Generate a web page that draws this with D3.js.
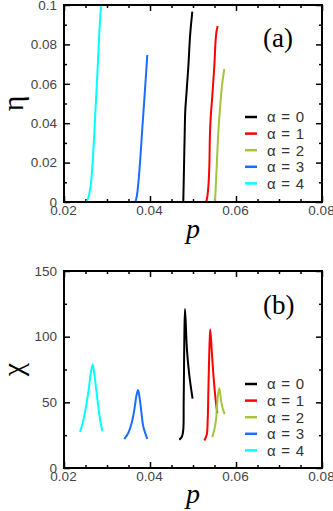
<!DOCTYPE html>
<html><head><meta charset="utf-8">
<script src="https://cdn.jsdelivr.net/npm/d3@7"></script>
<style>html,body{margin:0;padding:0;background:#fff;}svg{display:block;}</style>
</head><body>
<svg id="c" width="333" height="511"></svg>
<script>
// ---- data ----
const alphas = [0, 1, 2, 3, 4];
const colors = ["#000000", "#ff0000", "#a5c43a", "#1a6dff", "#00ffff"];
const xTicks = [0.02, 0.04, 0.06, 0.08];
const etaTicks = [0, 0.02, 0.04, 0.06, 0.08, 0.1];
const etaTickLabels = ["0", "0.02", "0.04", "0.06", "0.08", "0.1"];
const chiTicks = [0, 50, 100, 150];

// panel (a): eta vs p
const etaP0 = [0.04774, 0.04791, 0.04807, 0.04821, 0.04837, 0.04891, 0.04937, 0.04984];
const etaV0 = [0, 0.0178, 0.035, 0.0467, 0.0518, 0.0685, 0.0858, 0.0966];
const etaP1 = [0.05302, 0.05319, 0.05356, 0.05379, 0.05395, 0.05412, 0.05442, 0.05495, 0.05542, 0.05574];
const etaV1 = [0, 0.001, 0.0076, 0.0178, 0.035, 0.0431, 0.0518, 0.0685, 0.0858, 0.0893];
const etaP2 = [0.05512, 0.05551, 0.05588, 0.05644, 0.05681, 0.05728];
const etaV2 = [0, 0.0178, 0.035, 0.0518, 0.0604, 0.0675];
const etaP3 = [0.03612, 0.03651, 0.03674, 0.03728, 0.0376, 0.03814, 0.03867, 0.03919, 0.03937];
const etaV3 = [0, 0, 0.001, 0.0096, 0.0178, 0.035, 0.0518, 0.0685, 0.0746];
const etaP4 = [0.02465, 0.02528, 0.02605, 0.02658, 0.02705, 0.02744, 0.02784, 0.02821, 0.0286];
const etaV4 = [0, 0, 0.0061, 0.0178, 0.035, 0.0518, 0.0685, 0.0858, 0.1];

// panel (b): chi vs p
const chiP0 = [0.04681, 0.04744, 0.04774, 0.04783, 0.04791, 0.04798, 0.04814, 0.0486, 0.04914, 0.0499];
const chiV0 = [21.5, 24, 29.1, 49.3, 74.6, 97.4, 121, 89.8, 70.8, 52.8];
const chiP1 = [0.05263, 0.05319, 0.05342, 0.05356, 0.05372, 0.05388, 0.05402, 0.05435, 0.05472, 0.05519, 0.05565];
const chiV1 = [21, 25.3, 36.7, 56.9, 79.7, 97.4, 105.5, 89.8, 72.1, 54.4, 41.8];
const chiP2 = [0.05449, 0.05495, 0.05535, 0.05558, 0.05581, 0.05612, 0.05651, 0.0569, 0.05737];
const chiV2 = [23.5, 29.1, 36.7, 46.8, 55.6, 60.7, 51.9, 45.5, 41];
const chiP3 = [0.03402, 0.03495, 0.03574, 0.03635, 0.03681, 0.03721, 0.0376, 0.03798, 0.03844, 0.03937];
const chiV3 = [22, 26.6, 34.2, 44.3, 54.4, 59.4, 53.1, 43, 31.6, 22.2];
const chiP4 = [0.02372, 0.02435, 0.02512, 0.02574, 0.02621, 0.02667, 0.02714, 0.0276, 0.02807, 0.02853, 0.02891];
const chiV4 = [27.5, 34.2, 46.8, 59.4, 72.1, 78.8, 69.5, 56.9, 44.3, 34.2, 28];

const etaSeries = [[etaP0, etaV0], [etaP1, etaV1], [etaP2, etaV2], [etaP3, etaV3], [etaP4, etaV4]];
const chiSeries = [[chiP0, chiV0], [chiP1, chiV1], [chiP2, chiV2], [chiP3, chiV3], [chiP4, chiV4]];

const svg = d3.select("#c");
const tickFont = "'Liberation Sans', Arial, sans-serif";
const serif = "'Liberation Serif', 'DejaVu Serif', serif";

function panel(opts) {
  const {top, bottom, yDomain, yTicks, yMinor, yFmt, series, label, ylabel, legendY0, xlabelY, curve} = opts;
  const left = 64, right = 322;
  const x = d3.scaleLinear().domain([0.02, 0.08]).range([left, right]);
  const y = d3.scaleLinear().domain(yDomain).range([bottom, top]);
  const g = svg.append("g");

  const xMinor = d3.range(0.02, 0.0801, 0.005).filter(v => !xTicks.some(t => Math.abs(t - v) < 1e-9));
  const mk = (axis, tr, ticks, size, fmt) => {
    const a = g.append("g").attr("transform", tr)
      .call(axis.tickValues(ticks).tickSizeInner(-size).tickSizeOuter(0).tickPadding(4).tickFormat(fmt));
    a.select(".domain").remove();
    a.selectAll("line").attr("stroke", "#000").attr("stroke-width", 1.5);
    return a;
  };
  const xb = mk(d3.axisBottom(x), `translate(0,${bottom})`, xTicks, 6, d => d3.format(".2f")(d));
  xb.selectAll("text").attr("font-family", tickFont).attr("font-size", 13.5).attr("fill", "#444")
    .attr("dy", "0.7em").attr("y", 4).attr("dx", -1);
  mk(d3.axisBottom(x), `translate(0,${bottom})`, xMinor, 3, "");
  mk(d3.axisTop(x), `translate(0,${top})`, xTicks, 6, "");
  mk(d3.axisTop(x), `translate(0,${top})`, xMinor, 3, "");
  const yl = mk(d3.axisLeft(y), `translate(${left},0)`, yTicks, 6, yFmt);
  yl.selectAll("text").attr("font-family", tickFont).attr("font-size", 13.5).attr("fill", "#444").attr("x", -7);
  mk(d3.axisLeft(y), `translate(${left},0)`, yMinor, 3, "");
  mk(d3.axisRight(y), `translate(${right},0)`, yTicks, 6, "");
  mk(d3.axisRight(y), `translate(${right},0)`, yMinor, 3, "");

  const line = d3.line().x(d => x(d[0])).y(d => y(d[1])).curve(curve);
  series.forEach((s, i) => {
    const pts = s[0].map((p, k) => [p, s[1][k]]);
    g.append("path").attr("d", line(pts)).attr("fill", "none")
      .attr("stroke", colors[i]).attr("stroke-width", 2).attr("stroke-linejoin", "round");
  });

  g.append("rect").attr("x", left).attr("y", top).attr("width", right - left).attr("height", bottom - top)
    .attr("fill", "none").attr("stroke", "#000").attr("stroke-width", 2);

  g.append("text").attr("x", 263).attr("y", opts.tagY).attr("font-family", serif).attr("font-size", 27)
    .attr("fill", "#000").text(label);

  alphas.forEach((a, i) => {
    const ly = legendY0 + i * 16.6;
    g.append("line").attr("x1", 245).attr("x2", 257).attr("y1", ly).attr("y2", ly)
      .attr("stroke", colors[i]).attr("stroke-width", 2.5);
    g.append("text").attr("x", 267).attr("y", ly).attr("dy", "0.36em")
      .attr("font-family", tickFont).attr("font-size", 15).attr("fill", "#333")
      .attr("word-spacing", 1.5).attr("xml:space", "preserve").text("\u03b1 = " + a);
  });

  g.append("text").attr("x", (left + right) / 2).attr("y", xlabelY).attr("text-anchor", "middle")
    .attr("font-family", serif).attr("font-style", "italic").attr("font-size", 28).attr("fill", "#000").text("p");
  g.append("text").attr("transform", `translate(23,${(top + bottom) / 2}) rotate(-90)`).attr("text-anchor", "middle")
    .attr("font-family", serif).attr("font-size", 30).attr("fill", "#000").text(ylabel);
}

panel({top: 5, bottom: 202, yDomain: [0, 0.1], yTicks: etaTicks,
  yMinor: [0.01, 0.03, 0.05, 0.07, 0.09], yFmt: (d, i) => etaTickLabels[i],
  series: etaSeries, label: "(a)", ylabel: "\u03b7", legendY0: 117, xlabelY: 238, tagY: 47,
  curve: d3.curveMonotoneY});
panel({top: 271, bottom: 468, yDomain: [0, 150], yTicks: chiTicks,
  yMinor: [25, 75, 125], yFmt: d => String(d),
  series: chiSeries, label: "(b)", ylabel: "\u03c7", legendY0: 384, xlabelY: 503, tagY: 314,
  curve: d3.curveCatmullRom.alpha(0.5)});
</script>
</body></html>
